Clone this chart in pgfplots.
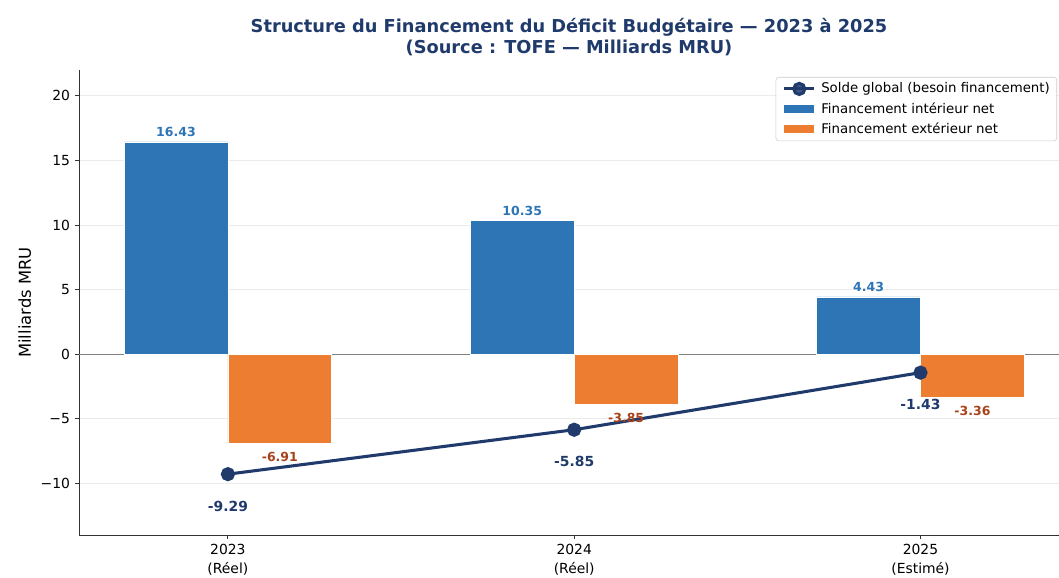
\documentclass[border=0pt]{standalone}
\usepackage{pgfplots}
\pgfplotsset{compat=1.18}
\usepackage{pgfplotstable}
\usepackage{fontspec}
\setmainfont{DejaVu Sans}
\definecolor{barblue}{HTML}{2E75B6}
\definecolor{barorange}{HTML}{ED7D31}
\definecolor{navy}{HTML}{1F3A6B}
\definecolor{rust}{HTML}{A8421A}

\pgfplotsset{
    linelegend/.style={legend image code/.code={\draw[mark repeat=2,mark phase=2,##1] plot coordinates {(0cm,0cm) (0.38cm,0cm) (0.76cm,0cm)};}},
    barlegend/.style={legend image code/.code={\draw[##1] (0cm,0cm) -- (0.76cm,0cm);}},
}

% xb / xo: centres of the blue and orange bars
\pgfplotstableread{
x xb xo int intlab ext extlab solde soldelab
0 -0.15 0.15 16.43 16.43 -6.91 -6.91 -9.29 -9.29
1 0.85 1.15 10.35 10.35 -3.85 -3.85 -5.85 -5.85
2 1.85 2.15 4.43 4.43 -3.36 -3.36 -1.43 -1.43
}\data

\begin{document}
\begin{tikzpicture}
% keep the page at the reference's frame (1 px = 0.72 pt)
\path[use as bounding box] (-56.88pt,-30.24pt) rectangle (705.6pt,385.2pt);
\begin{axis}[
    scale only axis,
    width=705.6pt, height=334.8pt,
    xmin=-0.43, xmax=2.4,
    ymin=-14, ymax=22,
    axis x line*=bottom, axis y line*=left,
    axis line style={-, black!80, line width=0.7pt},
    xtick={0,1,2},
    xticklabels={{2023\\(Réel)},{2024\\(Réel)},{2025\\(Estimé)}},
    xticklabel style={align=center, font=\fontsize{10}{13.5}\selectfont},
    ytick={-10,-5,0,5,10,15,20},
    yticklabels={−10,−5,0,5,10,15,20},
    yticklabel style={font=\fontsize{10}{12}\selectfont},
    tick align=outside, major tick length=3pt,
    tick style={black!80, line width=0.6pt},
    ymajorgrids, grid style={black!8, line width=0.6pt},
    ylabel={Milliards MRU},
    ylabel style={font=\fontsize{11.8}{14}\selectfont},
    title={\textbf{Structure du Financement du Déficit Budgétaire — 2023 à 2025}\\\textbf{(Source : TOFE — Milliards MRU)}},
    title style={align=center, text=navy, font=\fontsize{12.8}{15}\selectfont, at={(0.5,1)}, anchor=south, yshift=1pt},
    legend style={at={(0.998,0.985)}, anchor=north east, draw=black!20, rounded corners=2pt,
        fill=white, fill opacity=0.85, text opacity=1,
        font=\fontsize{9.6}{12}\selectfont, cells={anchor=west}, row sep=1.3pt},
]
\addlegendimage{linelegend, navy, line width=2.2pt, mark=*, mark size=4pt}
\addlegendentry{Solde global (besoin financement)}
\addlegendimage{barlegend, barblue, line width=6pt}
\addlegendentry{Financement intérieur net}
\addlegendimage{barlegend, barorange, line width=6pt}
\addlegendentry{Financement extérieur net}

\draw[black!50, line width=0.8pt] (axis cs:-0.43,0) -- (axis cs:2.4,0);

\addplot[ybar, bar width=0.3, bar shift=0pt, fill=barblue, draw=white, line width=0.5pt, forget plot]
    table[x=xb, y=int] {\data};
\addplot[ybar, bar width=0.3, bar shift=0pt, fill=barorange, draw=white, line width=0.5pt, forget plot]
    table[x=xo, y=ext] {\data};

% bar value labels
\addplot[draw=none, mark=none, point meta=explicit symbolic, nodes near coords,
    nodes near coords align={anchor=south},
    every node near coord/.append style={text=barblue, font=\fontsize{9}{10}\selectfont\bfseries, anchor=south},
    forget plot] table[x=xb, y=int, meta=intlab] {\data};
\addplot[draw=none, mark=none, point meta=explicit symbolic, nodes near coords,
    nodes near coords align={anchor=north},
    every node near coord/.append style={text=rust, font=\fontsize{9}{10}\selectfont\bfseries, anchor=north, yshift=-3pt},
    forget plot] table[x=xo, y=ext, meta=extlab] {\data};

\addplot[navy, line width=2.2pt, mark=*, mark size=4pt,
    point meta=explicit symbolic, nodes near coords, nodes near coords align={anchor=center},
    every node near coord/.append style={text=navy, font=\fontsize{10}{12}\selectfont\bfseries, anchor=center, yshift=-23pt},
    forget plot] table[x=x, y=solde, meta=soldelab] {\data};
\end{axis}
\end{tikzpicture}
\end{document}
